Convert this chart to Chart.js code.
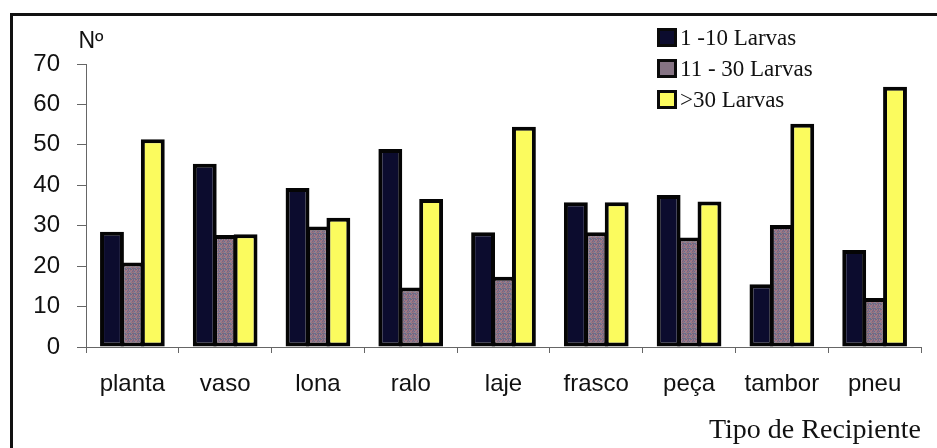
<!DOCTYPE html>
<html>
<head>
<meta charset="utf-8">
<script src="https://cdn.jsdelivr.net/npm/chart.js@4/dist/chart.umd.min.js"></script>
<style>
  html, body { margin: 0; padding: 0; background: #fff; overflow: hidden; }
  #wrap { position: relative; width: 937px; height: 448px; }
  #frame {
    position: absolute; left: 10px; top: 13px; right: -10px; bottom: -10px;
    border-top: 3px solid #111; border-left: 3px solid #111; pointer-events: none;
  }
  #legend {
    position: absolute; left: 657px; top: 22px;
    font-family: "Liberation Serif", "Times New Roman", serif; font-size: 23px; color: #111;
  }
  .row { height: 31px; display: flex; align-items: center; }
  .box { width: 14px; height: 13px; border: 3px solid #0a0a0a; margin-right: 3px; }
</style>
</head>
<body>
<div id="wrap">
  <canvas id="chart" width="937" height="448"></canvas>
  <div id="frame"></div>
  <div id="legend"></div>
</div>
<script>
// Data
const categories = ['planta', 'vaso', 'lona', 'ralo', 'laje', 'frasco', 'peça', 'tambor', 'pneu'];
const seriesNames = ['1 -10 Larvas', '11 - 30 Larvas', '>30 Larvas'];
const larvas1a10 = [28.5, 45.3, 39.3, 49.0, 28.4, 35.8, 37.6, 15.5, 24.0];
const larvas11a30 = [20.9, 27.7, 29.8, 14.7, 17.4, 28.4, 27.1, 30.2, 12.1];
const larvasMais30 = [51.4, 27.9, 32.0, 36.6, 54.5, 35.8, 36.0, 55.2, 64.4];
const yTicks = [0, 10, 20, 30, 40, 50, 60, 70];

// speckled mauve fill for the middle series
function speckle() {
  const c = document.createElement('canvas');
  c.width = 5; c.height = 5;
  const g = c.getContext('2d');
  const cols = ['#94707f', '#6b6c8c', '#8d8590', '#7a6478', '#a07a88'];
  for (let i = 0; i < 25; i++) {
    g.fillStyle = cols[(i * 3 + (i * i) % 7) % 5];
    g.fillRect(i % 5, Math.floor(i / 5), 1, 1);
  }
  return g.createPattern(c, 'repeat');
}

const fills = ['#0c0c2e', speckle(), '#fbfb5e'];
const legendFills = ['#0c0c2e', '#857383', '#fbfb5e'];
const values = [larvas1a10, larvas11a30, larvasMais30];

// HTML legend
const legendEl = document.getElementById('legend');
seriesNames.forEach((name, i) => {
  const row = document.createElement('div');
  row.className = 'row';
  row.innerHTML = `<span class="box" style="background:${legendFills[i]}"></span><span>${name}</span>`;
  legendEl.appendChild(row);
});

const sans = '"Liberation Sans", Arial, sans-serif';
const serif = '"Liberation Serif", "Times New Roman", serif';

// "Nº" above the y axis
const yTitle = {
  id: 'yTitle',
  afterDraw(chart) {
    const ctx = chart.ctx;
    ctx.save();
    ctx.font = '23px ' + sans;
    ctx.fillStyle = '#111';
    ctx.textAlign = 'center';
    ctx.textBaseline = 'middle';
    ctx.fillText('Nº', chart.chartArea.left + 5, chart.chartArea.top - 22);
    ctx.restore();
  }
};

new Chart(document.getElementById('chart'), {
  type: 'bar',
  data: {
    labels: categories,
    datasets: seriesNames.map((name, i) => ({
      label: name,
      data: values[i],
      backgroundColor: fills[i],
      borderColor: '#050505',
      borderWidth: 4,
      borderSkipped: false,
      categoryPercentage: 0.66,
      barPercentage: 1.17
    }))
  },
  options: {
    responsive: false,
    animation: false,
    devicePixelRatio: 1,
    layout: { padding: { left: 0, top: 64, right: 16, bottom: 0 } },
    plugins: { legend: { display: false }, tooltip: { enabled: false } },
    scales: {
      x: {
        grid: { drawOnChartArea: false, drawTicks: true, tickLength: 6, color: '#666' },
        border: { color: '#666', width: 1 },
        ticks: { font: { family: sans, size: 24 }, color: '#111', padding: 17 },
        title: {
          display: true, text: 'Tipo de Recipiente', align: 'end',
          font: { family: serif, size: 28 }, color: '#111',
          padding: { top: 6, bottom: 1 }
        },
        afterFit: s => { s.height = 101; }
      },
      y: {
        min: 0, max: 70,
        afterBuildTicks: s => { s.ticks = yTicks.map(v => ({ value: v })); },
        grid: { drawOnChartArea: false, drawTicks: true, tickLength: 9, color: '#666' },
        border: { color: '#666', width: 1 },
        ticks: { font: { family: sans, size: 24 }, color: '#111', padding: 17 },
        afterFit: s => { s.width = 86; }
      }
    }
  },
  plugins: [yTitle]
});
</script>
</body>
</html>
